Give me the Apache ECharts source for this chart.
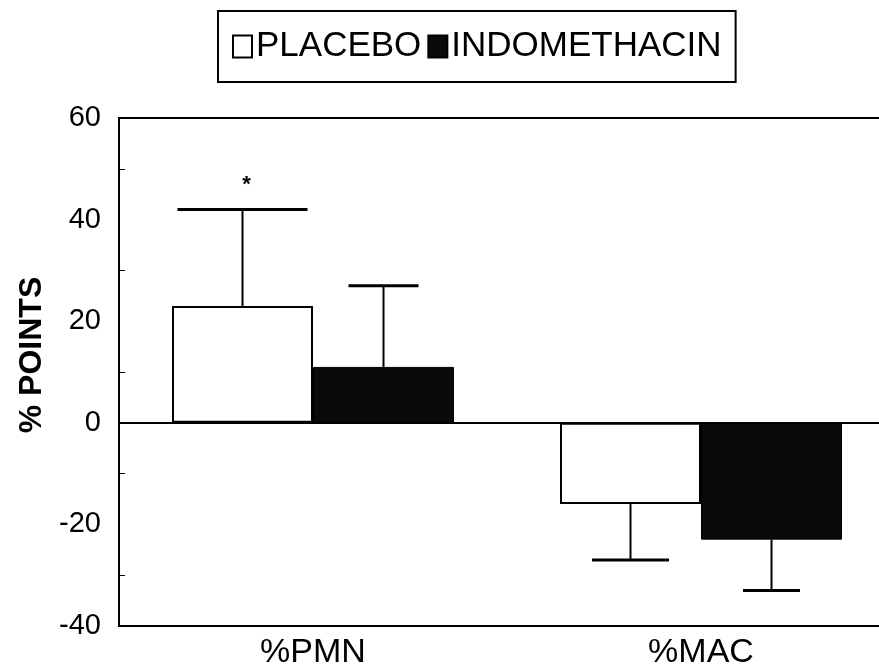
<!DOCTYPE html>
<html>
<head>
<meta charset="utf-8">
<script src="https://cdn.jsdelivr.net/npm/echarts@6/dist/echarts.min.js"></script>
<style>
  html, body { margin: 0; padding: 0; background: #fff; }
  #chart { width: 879px; height: 668px; }
</style>
</head>
<body>
<div id="chart"></div>
<script>
// data
const categories = ["%PMN", "%MAC"];
const placebo = [23, -16];
const placeboErr = [19, 11];
const indomethacin = [11, -23];
const indomethacinErr = [16, 10];
const placeboMarks = ["*", ""];
const yTicks = [-40, -20, 0, 20, 40, 60];

const FONT = "Liberation Sans, Arial, sans-serif";
const INK = "#000";
const BAR_W = 141;
// cap widths (px) for each error bar, per series and category
const CAPS = [[130, 77], [70, 57]];

const chart = echarts.init(document.getElementById("chart"), null, { renderer: "canvas" });

function errorSeries(name, idx, values, errs, marks) {
  const data = values.map((v, i) => [i, v, errs[i], marks ? marks[i] : ""]);
  return {
    name: name + " err",
    type: "custom",
    z: 5,
    silent: true,
    data,
    renderItem(params, api) {
      const cat = api.value(0);
      const v = api.value(1);
      const e = api.value(2);
      const end = v >= 0 ? v + e : v - e;
      const base = api.coord([cat, v]);
      const tip = api.coord([cat, end]);
      const x = base[0] + (idx === 0 ? -BAR_W / 2 : BAR_W / 2);
      const cap = CAPS[idx][params.dataIndex] / 2;
      const kids = [
        { type: "line", shape: { x1: x, y1: base[1], x2: x, y2: tip[1] }, style: { stroke: INK, lineWidth: 2 } },
        { type: "line", shape: { x1: x - cap, y1: tip[1], x2: x + cap, y2: tip[1] }, style: { stroke: INK, lineWidth: 3 } },
      ];
      const mark = data[params.dataIndex][3];
      if (mark) {
        kids.push({
          type: "text",
          style: { x: x + 4, y: tip[1] - 14, text: mark, fill: INK, font: "bold 22px " + FONT, align: "center", verticalAlign: "bottom" },
        });
      }
      return { type: "group", children: kids };
    },
  };
}

chart.setOption({
  animation: false,
  backgroundColor: "#fff",
  textStyle: { fontFamily: FONT, color: INK },
  grid: {
    left: 119, top: 118, bottom: 42, width: 776,
    outerBoundsMode: "none", containLabel: false,
    show: true, borderColor: INK, borderWidth: 2, backgroundColor: "transparent",
  },
  legend: {
    top: 11,
    left: 218,
    data: ["PLACEBO", "INDOMETHACIN"],
    icon: "rect",
    itemWidth: 19,
    itemHeight: 22,
    itemGap: 6,
    padding: [18, 14, 18, 14],
    borderColor: INK,
    borderWidth: 2,
    textStyle: { fontSize: 35, color: INK, fontFamily: FONT, padding: [0, 0, 0, -1] },
  },
  xAxis: {
    type: "category",
    data: categories,
    axisLine: { onZero: false, lineStyle: { color: INK, width: 2 } },
    axisTick: { inside: true, alignWithLabel: true, length: 6, lineStyle: { color: INK } },
    axisLabel: { fontSize: 34, color: INK, margin: 10, fontFamily: FONT },
    splitLine: { show: false },
  },
  yAxis: {
    type: "value",
    min: yTicks[0],
    max: yTicks[yTicks.length - 1],
    interval: 20,
    name: "% POINTS",
    nameLocation: "middle",
    nameGap: 67,
    nameTextStyle: { fontSize: 32, fontWeight: "bold", color: INK, fontFamily: FONT, padding: [0, 0, 0, 34] },
    axisLine: { show: true, lineStyle: { color: INK, width: 2 } },
    axisTick: { inside: true, length: 6, lineStyle: { color: INK } },
    minorTick: { show: true, splitNumber: 2, length: 6, lineStyle: { color: INK } },
    axisLabel: { fontSize: 29, color: INK, margin: 18, fontFamily: FONT },
    splitLine: { show: false },
  },
  series: [
    {
      name: "PLACEBO",
      type: "bar",
      data: placebo,
      barWidth: BAR_W,
      barGap: "0%",
      itemStyle: { color: "#fff", borderColor: INK, borderWidth: 2 },
      markLine: {
        silent: true,
        symbol: "none",
        label: { show: false },
        lineStyle: { color: INK, width: 2, type: "solid" },
        data: [{ yAxis: 0 }],
      },
    },
    {
      name: "INDOMETHACIN",
      type: "bar",
      data: indomethacin,
      barWidth: BAR_W,
      barGap: "0%",
      itemStyle: { color: "#0a0a0a", borderColor: INK, borderWidth: 1 },
    },
    errorSeries("PLACEBO", 0, placebo, placeboErr, placeboMarks),
    errorSeries("INDOMETHACIN", 1, indomethacin, indomethacinErr, null),
  ],
});
</script>
</body>
</html>
